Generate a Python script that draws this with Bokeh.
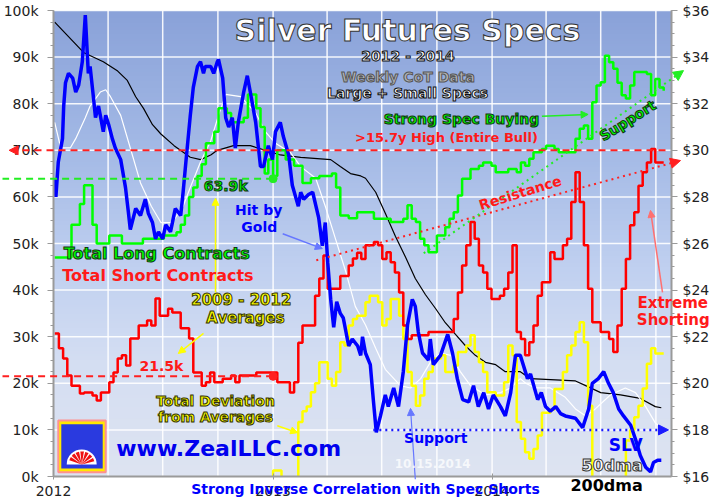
import numpy as np
import pandas as pd
from math import pi
from bokeh.plotting import figure
from bokeh.models import (Range1d, LinearAxis, DatetimeAxis, FixedTicker, SingleIntervalTicker,
                          PrintfTickFormatter, DatetimeTickFormatter, Label, Arrow, NormalHead)
from bokeh.embed import file_html
from bokeh.resources import INLINE

# ---------------- data ----------------
LONG_WEEK = ["2012-01-03", "2012-01-31", "2012-02-14", "2012-02-21", "2012-03-06", "2012-03-13",
             "2012-04-03", "2012-04-24", "2012-05-29", "2012-07-03", "2012-07-24", "2012-07-31",
             "2012-08-07", "2012-08-14", "2012-08-21", "2012-08-28", "2012-09-04", "2012-09-11",
             "2012-09-25", "2012-10-02", "2012-10-16", "2012-10-23", "2012-11-13", "2012-11-20",
             "2012-12-04", "2012-12-11", "2012-12-18", "2012-12-24", "2013-01-01", "2013-01-08",
             "2013-01-22", "2013-02-05", "2013-02-19", "2013-03-05", "2013-03-19", "2013-04-09",
             "2013-04-16", "2013-04-23", "2013-05-07", "2013-05-21", "2013-06-18", "2013-07-16",
             "2013-08-06", "2013-08-13", "2013-08-20", "2013-08-27", "2013-09-03", "2013-09-10",
             "2013-09-17", "2013-10-01", "2013-10-15", "2013-10-22", "2013-10-29", "2013-11-05",
             "2013-11-12", "2013-11-26", "2013-12-10", "2013-12-17", "2013-12-31", "2014-01-07",
             "2014-01-28", "2014-02-11", "2014-02-18", "2014-02-25", "2014-03-04", "2014-03-11",
             "2014-03-25", "2014-04-01", "2014-04-15", "2014-04-22", "2014-05-20", "2014-05-27",
             "2014-06-03", "2014-06-10", "2014-06-17", "2014-06-24", "2014-07-01", "2014-07-08",
             "2014-07-15", "2014-07-22", "2014-07-29", "2014-08-05", "2014-08-12", "2014-08-19",
             "2014-08-26", "2014-09-16", "2014-09-23", "2014-09-30", "2014-10-07", "2014-10-14"]
LONG_K = [47.0, 54.0, 58.5, 62.5, 54.0, 50.0,
          51.7, 50.0, 51.0, 51.7, 52.4, 54.0,
          56.0, 60.0, 62.0, 64.5, 67.0, 71.5,
          74.0, 79.0, 78.0, 76.0, 77.0, 82.0,
          79.0, 75.0, 65.0, 68.0, 64.5, 70.0,
          68.0, 66.7, 63.0, 64.0, 64.5, 65.0,
          62.0, 56.0, 55.4, 56.7, 55.3, 54.6,
          55.3, 58.2, 55.3, 54.6, 51.0, 49.6,
          48.1, 51.7, 53.5, 55.3, 56.7, 60.3,
          63.9, 66.0, 66.7, 67.4, 66.7, 65.3,
          66.0, 65.3, 67.4, 66.7, 68.2, 69.6,
          70.3, 71.0, 70.3, 69.6, 72.5, 74.6,
          75.3, 72.5, 80.3, 83.9, 84.6, 90.3,
          88.9, 87.5, 84.5, 81.8, 81.1, 83.9,
          86.8, 86.4, 81.8, 85.3, 83.5, 82.8]

SHORT_WEEK = ["2012-01-03", "2012-01-10", "2012-01-17", "2012-01-24", "2012-01-31", "2012-02-14",
              "2012-02-21", "2012-03-06", "2012-03-13", "2012-03-20", "2012-04-03", "2012-04-10",
              "2012-04-17", "2012-04-24", "2012-05-01", "2012-05-08", "2012-05-22", "2012-06-05",
              "2012-06-12", "2012-06-19", "2012-06-26", "2012-07-10", "2012-07-17", "2012-07-31",
              "2012-08-14", "2012-08-21", "2012-09-04", "2012-09-11", "2012-09-18", "2012-09-25",
              "2012-10-09", "2012-10-23", "2012-10-30", "2012-11-06", "2012-12-04", "2013-01-08",
              "2013-01-29", "2013-02-05", "2013-02-12", "2013-02-19", "2013-03-12", "2013-03-19",
              "2013-03-26", "2013-04-02", "2013-04-23", "2013-05-07", "2013-05-14", "2013-05-21",
              "2013-05-28", "2013-06-04", "2013-06-18", "2013-06-25", "2013-07-02", "2013-07-09",
              "2013-07-16", "2013-07-23", "2013-07-30", "2013-08-06", "2013-08-13", "2013-08-20",
              "2013-09-17", "2013-10-29", "2013-11-05", "2013-11-12", "2013-11-19", "2013-11-26",
              "2013-12-03", "2013-12-10", "2013-12-17", "2013-12-24", "2013-12-31", "2014-01-14",
              "2014-01-21", "2014-01-28", "2014-02-04", "2014-02-11", "2014-02-18", "2014-02-25",
              "2014-03-04", "2014-03-11", "2014-03-18", "2014-03-25", "2014-04-08", "2014-04-15",
              "2014-04-29", "2014-05-06", "2014-05-13", "2014-05-20", "2014-05-27", "2014-06-03",
              "2014-06-10", "2014-06-17", "2014-07-01", "2014-07-15", "2014-07-22", "2014-07-29",
              "2014-08-05", "2014-08-12", "2014-08-19", "2014-08-26", "2014-09-02", "2014-09-09",
              "2014-09-16", "2014-09-23", "2014-09-30", "2014-10-14"]
SHORT_K = [30.7, 27.5, 25.3, 21.7, 19.5, 17.8,
           18.0, 17.4, 16.3, 18.0, 20.2, 22.3,
           25.3, 26.0, 23.8, 29.6, 32.4, 33.5,
           32.4, 38.2, 34.5, 36.0, 35.2, 31.8,
           29.6, 22.3, 19.5, 20.2, 22.3, 20.2,
           21.0, 21.7, 20.2, 21.7, 22.3, 20.2,
           18.0, 20.2, 28.7, 32.4, 38.8, 42.5,
           47.4, 40.3, 43.0, 45.3, 46.8, 48.0,
           46.7, 49.6, 50.3, 49.6, 46.7, 48.1,
           46.0, 43.8, 39.5, 32.4, 29.5, 30.3,
           31.0, 33.8, 39.5, 45.3, 49.6, 54.6,
           51.0, 45.3, 43.8, 40.3, 38.1, 38.8,
           40.3, 43.8, 49.6, 31.0, 29.5, 26.0,
           28.8, 32.4, 38.8, 41.7, 48.1, 46.7,
           49.6, 51.0, 58.9, 65.3, 58.9, 49.6,
           40.3, 33.1, 31.0, 29.5, 26.7, 32.4,
           40.3, 46.7, 53.9, 56.7, 62.4, 65.3,
           67.4, 70.3, 67.4, 67.4]

DEV_WEEK = ["2012-12-25", "2013-01-01", "2013-01-15", "2013-02-12", "2013-02-19", "2013-02-26",
            "2013-03-05", "2013-03-12", "2013-03-19", "2013-04-02", "2013-04-09", "2013-04-16",
            "2013-04-23", "2013-04-30", "2013-05-07", "2013-05-14", "2013-05-21", "2013-06-04",
            "2013-06-11", "2013-06-25", "2013-07-02", "2013-07-09", "2013-07-16", "2013-07-30",
            "2013-08-06", "2013-08-13", "2013-08-20", "2013-08-27", "2013-09-03", "2013-09-10",
            "2013-09-17", "2013-09-24", "2013-10-08", "2013-10-15", "2013-10-29", "2013-11-05",
            "2013-11-19", "2013-11-26", "2013-12-03", "2013-12-10", "2013-12-17", "2013-12-24",
            "2014-01-07", "2014-01-21", "2014-01-28", "2014-02-04", "2014-02-11", "2014-02-18",
            "2014-02-25", "2014-03-04", "2014-03-11", "2014-03-18", "2014-03-25", "2014-04-08",
            "2014-04-15", "2014-04-29", "2014-05-06", "2014-05-13", "2014-05-20", "2014-05-27",
            "2014-06-03", "2014-06-10", "2014-06-17", "2014-08-12", "2014-08-19", "2014-08-26",
            "2014-09-02", "2014-09-09", "2014-09-16", "2014-09-23", "2014-09-30", "2014-10-14"]
DEV_K = [-6.0, 1.3, -6.0, 11.7, 14.0, 15.0,
         18.1, 20.0, 24.5, 21.0, 19.5, 22.4,
         28.8, 28.1, 32.4, 33.8, 34.5, 37.4,
         38.8, 37.4, 32.4, 33.8, 38.1, 34.5,
         29.5, 22.4, 19.5, 15.2, 17.4, 21.0,
         22.4, 25.3, 26.0, 22.4, 23.8, 26.7,
         28.1, 30.3, 26.7, 24.5, 22.4, 18.1,
         17.4, 20.2, 28.1, 26.0, 11.7, 8.1,
         5.2, 3.8, 5.9, 8.8, 13.7, 14.4,
         18.8, 22.4, 26.0, 28.1, 31.0, 33.1,
         28.8, 15.2, -12.0, 7.7, 10.0, 12.7,
         15.2, 18.9, 24.2, 27.5, 26.4, 26.4]

SLV_DAY = ["2012-01-03", "2012-01-05", "2012-01-09", "2012-01-16", "2012-01-18", "2012-01-21",
           "2012-01-26", "2012-02-02", "2012-02-07", "2012-02-12", "2012-02-18", "2012-02-23",
           "2012-02-28", "2012-03-02", "2012-03-07", "2012-03-11", "2012-03-16", "2012-03-19",
           "2012-03-24", "2012-03-28", "2012-04-02", "2012-04-08", "2012-04-13", "2012-04-22",
           "2012-04-30", "2012-05-05", "2012-05-08", "2012-05-17", "2012-05-25", "2012-06-02",
           "2012-06-07", "2012-06-14", "2012-06-19", "2012-06-24", "2012-07-01", "2012-07-06",
           "2012-07-14", "2012-07-22", "2012-07-31", "2012-08-04", "2012-08-09", "2012-08-16",
           "2012-08-21", "2012-08-28", "2012-09-02", "2012-09-07", "2012-09-10", "2012-09-19",
           "2012-09-24", "2012-09-30", "2012-10-02", "2012-10-09", "2012-10-14", "2012-10-19",
           "2012-10-25", "2012-10-30", "2012-11-04", "2012-11-13", "2012-11-19", "2012-11-24",
           "2012-12-03", "2012-12-11", "2012-12-16", "2012-12-24", "2012-12-31", "2013-01-05",
           "2013-01-13", "2013-01-18", "2013-01-27", "2013-02-02", "2013-02-12", "2013-02-16",
           "2013-02-21", "2013-03-01", "2013-03-08", "2013-03-18", "2013-03-24", "2013-03-29",
           "2013-04-02", "2013-04-07", "2013-04-12", "2013-04-17", "2013-04-23", "2013-04-28",
           "2013-05-07", "2013-05-13", "2013-05-22", "2013-05-27", "2013-05-30", "2013-06-04",
           "2013-06-12", "2013-06-17", "2013-06-22", "2013-06-29", "2013-07-07", "2013-07-12",
           "2013-07-21", "2013-07-29", "2013-08-06", "2013-08-13", "2013-08-21", "2013-08-26",
           "2013-08-31", "2013-09-07", "2013-09-17", "2013-09-20", "2013-09-25", "2013-10-07",
           "2013-10-19", "2013-10-27", "2013-11-04", "2013-11-13", "2013-11-23", "2013-12-01",
           "2013-12-09", "2013-12-18", "2013-12-26", "2014-01-03", "2014-01-15", "2014-01-23",
           "2014-02-01", "2014-02-09", "2014-02-17", "2014-03-01", "2014-03-06", "2014-03-18",
           "2014-03-24", "2014-03-31", "2014-04-08", "2014-04-17", "2014-04-25", "2014-05-03",
           "2014-05-20", "2014-06-01", "2014-06-11", "2014-06-17", "2014-06-27", "2014-07-06",
           "2014-07-14", "2014-07-22", "2014-07-31", "2014-08-08", "2014-08-20", "2014-08-28",
           "2014-09-05", "2014-09-14", "2014-09-22", "2014-09-27", "2014-10-04", "2014-10-10"]
SLV_PRICE = [28.8, 28.0, 29.5, 30.5, 31.9, 32.9,
             33.3, 33.1, 32.5, 32.8, 33.8, 35.8,
             33.3, 33.6, 32.4, 31.4, 31.9, 31.5,
             30.8, 31.5, 31.1, 30.5, 30.1, 29.6,
             28.4, 27.3, 26.6, 27.5, 27.2, 27.9,
             27.3, 26.9, 26.2, 26.5, 26.2, 26.8,
             26.5, 27.5, 27.2, 28.2, 29.6, 31.5,
             32.7, 33.6, 33.8, 33.3, 33.6, 33.6,
             33.3, 33.8, 33.9, 33.1, 31.4, 31.0,
             31.4, 30.1, 31.2, 32.5, 33.2, 32.5,
             31.2, 29.3, 29.3, 30.2, 29.6, 30.8,
             31.2, 30.6, 29.8, 28.5, 27.6, 28.2,
             27.9, 28.1, 28.2, 27.1, 25.9, 26.9,
             25.2, 23.6, 22.4, 23.5, 23.0, 22.8,
             21.6, 21.9, 21.6, 21.2, 22.0, 21.3,
             20.8, 19.3, 17.9, 18.6, 19.5, 19.0,
             19.8, 19.0, 20.5, 22.5, 23.6, 23.3,
             22.2, 21.3, 21.0, 21.9, 20.8, 21.2,
             22.1, 21.3, 20.2, 19.3, 19.2, 19.9,
             19.0, 19.6, 18.9, 19.5, 19.0, 18.6,
             19.6, 21.2, 21.2, 20.2, 20.4, 19.3,
             19.6, 19.0, 18.8, 19.0, 18.7, 18.6,
             18.5, 18.1, 18.9, 20.0, 20.2, 20.5,
             20.0, 19.6, 18.9, 18.6, 18.2, 17.6,
             16.9, 16.4, 16.2, 16.6, 16.7, 16.7]

MA50_DAY = ["2012-01-03", "2012-01-13", "2012-01-29", "2012-02-07", "2012-02-23", "2012-03-02",
            "2012-03-19", "2012-03-28", "2012-04-05", "2012-04-22", "2012-05-08", "2012-05-25",
            "2012-06-12", "2012-06-28", "2012-07-14", "2012-07-22", "2012-08-04", "2012-08-16",
            "2012-09-02", "2012-09-19", "2012-10-02", "2012-10-14", "2012-11-08", "2012-12-03",
            "2012-12-19", "2013-01-05", "2013-01-30", "2013-02-16", "2013-03-13", "2013-03-29",
            "2013-04-15", "2013-05-02", "2013-05-18", "2013-06-04", "2013-06-21", "2013-07-07",
            "2013-08-01", "2013-08-18", "2013-09-04", "2013-09-20", "2013-10-07", "2013-10-24",
            "2013-11-09", "2013-11-26", "2013-12-21", "2014-01-15", "2014-02-01", "2014-02-17",
            "2014-02-26", "2014-03-14", "2014-04-08", "2014-05-03", "2014-05-20", "2014-06-06",
            "2014-06-22", "2014-07-17", "2014-08-11", "2014-08-28", "2014-09-14", "2014-09-30",
            "2014-10-10"]
MA50_PRICE = [31.2, 30.1, 30.1, 30.5, 31.4, 31.9,
              32.5, 32.6, 32.3, 31.5, 30.1, 28.6,
              27.6, 26.9, 26.9, 27.1, 27.6, 28.4,
              29.5, 30.4, 31.5, 32.4, 32.3, 31.6,
              30.8, 30.3, 29.9, 29.3, 28.8, 27.6,
              26.2, 24.8, 23.3, 22.5, 21.5, 20.6,
              19.9, 19.8, 20.2, 20.9, 21.3, 21.2,
              20.5, 19.9, 19.5, 19.6, 19.8, 20.2,
              20.0, 19.8, 19.8, 19.4, 18.9, 18.6,
              18.9, 19.5, 19.8, 19.6, 19.0, 18.3,
              18.1]

MA200_DAY = ["2012-01-03", "2012-02-20", "2012-03-24", "2012-04-17", "2012-05-03", "2012-05-17",
             "2012-05-30", "2012-06-14", "2012-06-28", "2012-07-20", "2012-08-16", "2012-09-02",
             "2012-09-19", "2012-09-30", "2012-10-27", "2012-11-24", "2012-12-19", "2013-01-13",
             "2013-02-16", "2013-04-07", "2013-04-23", "2013-05-10", "2013-05-27", "2013-06-04",
             "2013-06-21", "2013-07-07", "2013-07-24", "2013-08-10", "2013-08-26", "2013-09-12",
             "2013-09-29", "2013-10-15", "2013-11-01", "2013-11-18", "2013-12-04", "2013-12-21",
             "2014-01-07", "2014-01-23", "2014-02-17", "2014-03-06", "2014-05-20", "2014-06-06",
             "2014-07-01", "2014-08-03", "2014-09-05", "2014-09-30", "2014-10-10"]
MA200_PRICE = [35.5, 34.2, 33.8, 33.4, 33.0, 32.3,
               31.8, 31.1, 30.7, 30.2, 29.7, 29.6,
               29.8, 30.0, 30.2, 30.2, 30.0, 29.8,
               29.7, 29.6, 29.3, 29.0, 28.9, 28.8,
               28.2, 27.3, 26.3, 25.4, 24.5, 23.8,
               23.2, 22.6, 22.1, 21.6, 21.2, 20.9,
               20.8, 20.5, 20.5, 20.2, 20.1, 19.9,
               19.6, 19.5, 19.35, 19.0, 18.95]

AVG_LONG_K = 63.9        # 2009-2012 average longs
AVG_SHORT_K = 21.5       # 2009-2012 average shorts
HIGH_SHORT_K = 70.0      # >15.7y high
SUPPORT_PRICE = 18.0
X_TICK_YEARS = ["2012-01-01", "2013-01-01", "2014-01-01"]
X_GRID_QUARTERS = ["2012-04-01", "2012-07-01", "2012-10-01", "2013-01-01", "2013-04-01",
                   "2013-07-01", "2013-10-01", "2014-01-01", "2014-04-01", "2014-07-01", "2014-10-01"]
Y_GRID_K = [10, 20, 30, 40, 50, 60, 70, 80, 90, 100]


def ms(d):
    return pd.Timestamp(d).value / 1e6


def dts(lst):
    return pd.to_datetime(lst)


# data window and the canvas view around it (page is 720x504; data window 53..671 x 10..476 px)
W, H = 720, 504
X0, X1 = "2012-01-01", "2014-10-27"
Y0, Y1 = 0.0, 100.0
P0, P1 = 16.0, 36.0
FX0, FX1, FY_TOP, FY_BOT = 53.0, 671.0, 10.0, 476.0
DAY = 86400000.0
px_per_ms = (FX1 - FX0) / (ms(X1) - ms(X0))
px_per_k = (FY_BOT - FY_TOP) / (Y1 - Y0)
VX0 = ms(X0) - FX0 / px_per_ms
VX1 = ms(X0) + (W - FX0) / px_per_ms
VY0 = Y0 - (H - FY_BOT) / px_per_k
VY1 = Y0 + FY_BOT / px_per_k
K_PER_DOLLAR = (Y1 - Y0) / (P1 - P0)
FONT = "DejaVu Sans"

p = figure(width=W, height=H, x_axis_type="datetime",
           x_axis_location=None, y_axis_location=None,
           x_range=Range1d(VX0, VX1), y_range=Range1d(VY0, VY1),
           output_backend="svg", toolbar_location=None,
           min_border_left=0, min_border_right=0, min_border_top=0, min_border_bottom=0)
p.extra_y_ranges = {"price": Range1d(P0 + VY0 / K_PER_DOLLAR, P0 + VY1 / K_PER_DOLLAR)}
p.outline_line_color = None
p.border_fill_color = "white"
p.background_fill_color = "white"
p.xgrid.visible = False
p.ygrid.visible = False

# background gradient over the data window
stops_k = [0, 25, 45, 70, 100]
stops_rgb = [(222, 228, 241), (212, 222, 243), (192, 208, 240), (164, 186, 230), (138, 162, 217)]
N = 200
img = np.empty((N, 1), dtype=np.uint32)
view = img.view(dtype=np.uint8).reshape((N, 1, 4))
ks = np.linspace(0, 100, N)
for ch in range(3):
    view[:, 0, ch] = np.interp(ks, stops_k, [c[ch] for c in stops_rgb]).astype(np.uint8)
view[:, 0, 3] = 255
p.image_rgba(image=[img], x=ms(X0), y=Y0, dw=ms(X1) - ms(X0), dh=Y1 - Y0, level="image")

# grid lines limited to the data window
qx = dts(X_GRID_QUARTERS)
p.segment(x0=qx, y0=[Y0] * len(qx), x1=qx, y1=[Y1] * len(qx),
          line_color="white", line_width=1.5, line_alpha=0.9, level="underlay")
p.segment(x0=[pd.Timestamp(X0)] * len(Y_GRID_K), y0=Y_GRID_K, x1=[pd.Timestamp(X1)] * len(Y_GRID_K),
          y1=Y_GRID_K, line_color="white", line_width=1.5, line_alpha=0.9, level="underlay")

# axes fixed to the data window edges
ax_l = LinearAxis(fixed_location=ms(X0), bounds=(Y0, Y1),
                  ticker=SingleIntervalTicker(interval=10, num_minor_ticks=4),
                  formatter=PrintfTickFormatter(format="%dk"))
ax_r = LinearAxis(y_range_name="price", fixed_location=ms(X1), bounds=(P0, P1),
                  ticker=SingleIntervalTicker(interval=2, num_minor_ticks=4),
                  formatter=PrintfTickFormatter(format="$%d"))
ax_b = DatetimeAxis(fixed_location=Y0, bounds=(ms(X0), ms(X1)),
                    ticker=FixedTicker(ticks=[ms(d) for d in X_TICK_YEARS], minor_ticks=[]),
                    formatter=DatetimeTickFormatter(years="%Y", months="%Y", days="%Y"))
p.add_layout(ax_l, "left")
p.add_layout(ax_r, "right")
p.add_layout(ax_b, "below")
for ax in (ax_l, ax_r, ax_b):
    ax.axis_line_color = "#9a9a9a"
    ax.axis_line_width = 2
    ax.major_tick_line_color = "#9a9a9a"
    ax.minor_tick_line_color = "#9a9a9a"
    ax.major_tick_in = 0
    ax.major_tick_out = 6
    ax.minor_tick_in = 0
    ax.minor_tick_out = 3
    ax.major_label_text_font = FONT
    ax.major_label_text_font_size = "14px"
    ax.major_label_text_color = "#222222"
    ax.major_label_standoff = 5
ax_l.major_label_standoff = 9
ax_b.major_tick_in = 3
ax_b.major_tick_out = 3
ax_b.major_label_standoff = 6

# series
p.line(dts(MA200_DAY), MA200_PRICE, y_range_name="price", line_color="black", line_width=1.2)
p.line(dts(MA50_DAY), MA50_PRICE, y_range_name="price", line_color="white", line_width=1.2)
p.step(dts(DEV_WEEK), DEV_K, mode="after", line_color="#ffff00", line_width=2.5)
p.step(dts(SHORT_WEEK), SHORT_K, mode="after", line_color="#ff0000", line_width=2.5)
p.step(dts(LONG_WEEK), LONG_K, mode="after", line_color="#00ff00", line_width=2.5)
p.line(dts(SLV_DAY), SLV_PRICE, y_range_name="price", line_color="#0000ff", line_width=3.5)
# white mask under the 0k axis (values below the axis are cut off, as in the original)
p.quad(left=[VX0], right=[VX1], bottom=[VY0], top=[Y0], fill_color="white", line_color=None)


def arrow(x0, y0, x1, y1, color, width=2, dash="solid", head=9, rng="default"):
    end = NormalHead(size=head, fill_color=color, line_color=color) if head else None
    p.add_layout(Arrow(x_start=ms(x0), y_start=y0, x_end=ms(x1), y_end=y1, line_color=color,
                       line_width=width, line_dash=dash, end=end, y_range_name=rng))


# reference lines
arrow("2014-10-17", HIGH_SHORT_K, "2011-10-19", HIGH_SHORT_K, "#ff2020", 2, "7 5", 9)
arrow("2013-01-01", AVG_LONG_K, "2011-10-08", AVG_LONG_K, "#22ee22", 2, "7 5", 0)
arrow("2013-01-01", AVG_SHORT_K, "2011-10-08", AVG_SHORT_K, "#ff2020", 2, "7 5", 0)
p.scatter([pd.Timestamp("2013-01-01")] * 2, [AVG_LONG_K, AVG_SHORT_K], size=8,
          color=["#22ee22", "#ff2020"])
arrow("2013-06-17", SUPPORT_PRICE, "2014-10-22", SUPPORT_PRICE, "#1a1aff", 2.5, "2 4", 10, "price")
arrow("2013-03-14", 46.4, "2014-11-11", 67.8, "#ff2020", 2, "2 4", 10)
arrow("2013-09-09", 47.9, "2014-11-16", 87.1, "#22ee22", 2, "2 4", 10)

# pointer arrows
arrow("2014-03-25", 77.3, "2014-06-10", 77.7, "#22ee22", 1.5, "solid", 7)
arrow("2012-09-27", 39.5, "2012-09-27", 59.7, "#ffff00", 1.5, "solid", 7)
arrow("2012-09-07", 30.7, "2012-07-27", 26.4, "#ffff00", 1.5, "solid", 7)
arrow("2013-01-08", 10.9, "2013-02-11", 9.4, "#ffff00", 1.5, "solid", 7)
arrow("2013-01-17", 52.1, "2013-03-24", 48.9, "#6677ff", 1.5, "solid", 7)
arrow("2013-08-26", -0.6, "2013-08-18", 14.6, "#6677ff", 1.2, "solid", 7)
arrow("2014-10-12", 39.5, "2014-09-22", 57.1, "#ff7070", 1.5, "solid", 7)

# logo
p.quad(left=[pd.Timestamp("2012-01-09")], right=[pd.Timestamp("2012-03-28")], bottom=[0.9], top=[12.0],
       fill_color="#ffe800", line_color="#ff9090", line_width=2)
p.quad(left=[pd.Timestamp("2012-01-14")], right=[pd.Timestamp("2012-03-23")], bottom=[1.7], top=[11.2],
       fill_color="#2a3adf", line_color=None)
p.wedge(x=[pd.Timestamp("2012-02-17")], y=[2.6], radius=15, radius_units="screen",
        start_angle=0, end_angle=pi, fill_color="white", line_color=None)
fan = [a * pi / 180 for a in range(22, 160, 22)]
p.wedge(x=[pd.Timestamp("2012-02-17")] * len(fan), y=[2.6] * len(fan), radius=13, radius_units="screen",
        start_angle=[a - 0.14 for a in fan], end_angle=[a + 0.14 for a in fan],
        fill_color="#ee1111", line_color=None)


def label(text, d, k, size, color, outline=None, align="center", angle=0.0, alpha=1.0):
    lb = Label(x=ms(d), y=k, text=text, text_font=FONT, text_font_style="bold",
               text_font_size=f"{size}px", text_color=color, text_align=align,
               text_baseline="middle", angle=angle, text_alpha=alpha)
    if outline:
        lb.text_outline_color = outline
    p.add_layout(lb)


label("Silver Futures Specs", "2013-08-13", 95.7, 30, "white", "#333333")
label("2012 - 2014", "2013-08-14", 90.3, 14, "white", "#111111")
label("Weekly CoT Data", "2013-08-14", 85.8, 14, "#b4b4b4", "#555555")
label("Large + Small Specs", "2013-08-13", 82.4, 14, "white", "#111111")
label("Strong Spec Buying", "2013-11-11", 76.8, 14, "#00ff00", "#113311")
label(">15.7y High (Entire Bull)", "2013-10-17", 72.7, 13, "#ff1a1a")
label("63.9k", "2012-10-14", 62.4, 14, "#00ff00", "#113311")
label("Total Long Contracts", "2012-06-21", 47.9, 16, "#00ff00", "#113311")
label("Total Short Contracts", "2012-06-23", 43.1, 16, "#ff1a1a")
label("2009 - 2012", "2012-11-09", 37.8, 15, "#ffff00", "#333300")
label("Averages", "2012-11-16", 34.1, 15, "#ffff00", "#333300")
label("21.5k", "2012-06-29", 23.8, 14, "#ff1a1a")
label("Total Deviation", "2012-09-27", 16.3, 14, "#ffff00", "#333300")
label("from Averages", "2012-09-27", 12.7, 14, "#ffff00", "#333300")
label("www.ZealLLC.com", "2012-10-19", 6.0, 22, "#0000ee")
label("10.15.2014", "2013-09-24", 2.8, 12, "white", None, alpha=0.75)
label("Support", "2013-09-29", 8.2, 14, "#0000ff")
label("Strong Inverse Correlation with Spec Shorts", "2013-06-04", -2.6, 14, "#0000ff")
label("Hit by", "2012-12-08", 57.1, 14, "#0000ff")
label("Gold", "2012-12-09", 53.6, 14, "#0000ff")
label("Resistance", "2014-02-17", 60.9, 14, "#ff1a1a", angle=0.30)
label("Support", "2014-08-15", 76.4, 14, "#00ff00", "#113311", angle=0.56)
label("Extreme", "2014-10-29", 37.3, 15, "#ff1a1a")
label("Shorting", "2014-10-30", 33.5, 15, "#ff1a1a")
label("SLV", "2014-09-09", 6.7, 17, "#0000ff", align="right")
label("50dma", "2014-09-09", 2.4, 16, "white", "#333333", align="right")
label("200dma", "2014-09-09", -1.9, 16, "black", align="right")

open("out.html", "w").write(file_html(p, INLINE))
